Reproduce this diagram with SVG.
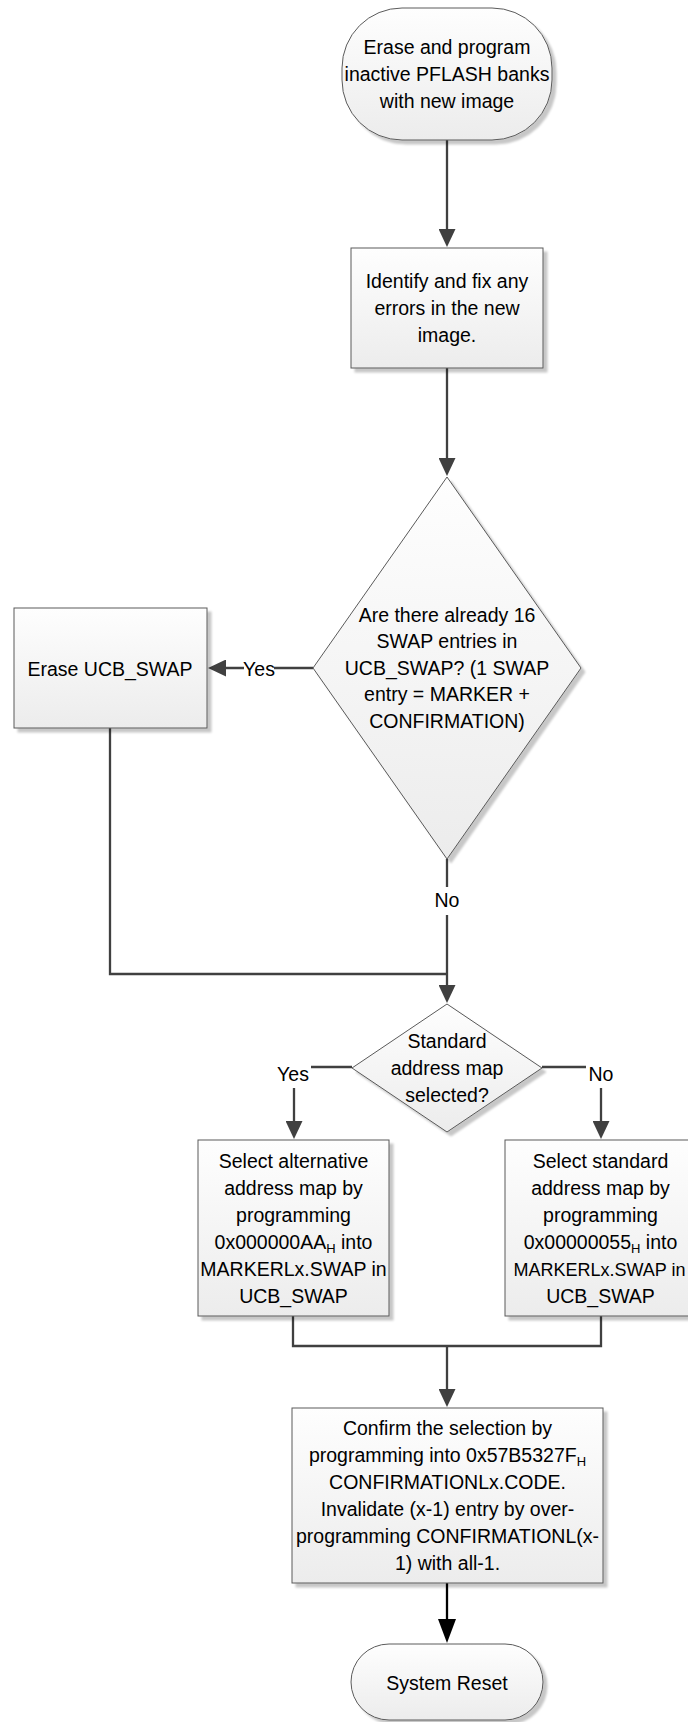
<svg xmlns="http://www.w3.org/2000/svg" width="688" height="1722" viewBox="0 0 688 1722">
  <defs>
    <linearGradient id="fillGrad" x1="0" y1="0" x2="0" y2="1">
      <stop offset="0" stop-color="#fefefe"/>
      <stop offset="1" stop-color="#ececec"/>
    </linearGradient>
    <filter id="shadow" x="-10%" y="-10%" width="130%" height="130%">
      <feDropShadow dx="4" dy="4" stdDeviation="1.3" flood-color="#000000" flood-opacity="0.22"/>
    </filter>
    <marker id="arrow" markerUnits="userSpaceOnUse" viewBox="0 0 18 17" markerWidth="18" markerHeight="17" refX="8" refY="8.5" orient="auto">
      <path d="M0,0 L18,8.5 L0,17 Z" fill="#404040"/>
    </marker>
    <marker id="arrowBlack" markerUnits="userSpaceOnUse" viewBox="0 0 24 18" markerWidth="24" markerHeight="18" refX="12" refY="9" orient="auto">
      <path d="M0,0 L24,9 L0,18 Z" fill="#000000"/>
    </marker>
  </defs>
  <style>
    .shape { fill: url(#fillGrad); stroke: #5a5a5a; stroke-width: 1; filter: url(#shadow); }
    .conn { fill: none; stroke: #404040; stroke-width: 2.3; }
    .connBlack { fill: none; stroke: #000000; stroke-width: 2.3; }
    text { font-family: "Liberation Sans", Arial, sans-serif; font-size: 19.5px; fill: #000000; text-anchor: middle; }
    .sub { font-size: 13px; }
    .tight { font-size: 18px; }
    .lblbg { fill: #ffffff; }
  </style>

  <rect width="688" height="1722" fill="#ffffff"/>

  <!-- connectors -->
  <g id="connectors">
    <path class="conn" d="M447,140 V237" marker-end="url(#arrow)"/>
    <path class="conn" d="M447,368 V466" marker-end="url(#arrow)"/>
    <path class="conn" d="M313,668 H218" marker-end="url(#arrow)"/>
    <path class="conn" d="M110,728 V974 H447"/>
    <path class="conn" d="M447,859 V993" marker-end="url(#arrow)"/>
    <path class="conn" d="M352,1067 H294 V1129" marker-end="url(#arrow)"/>
    <path class="conn" d="M542,1067 H601 V1129" marker-end="url(#arrow)"/>
    <path class="conn" d="M293,1316 V1346 H601 V1316"/>
    <path class="conn" d="M447,1346 V1397" marker-end="url(#arrow)"/>
    <path class="connBlack" d="M447,1583 V1631" marker-end="url(#arrowBlack)"/>

    <!-- connector labels -->
    <rect class="lblbg" x="244" y="656" width="30" height="24"/>
    <text x="259" y="676">Yes</text>
    <rect class="lblbg" x="434" y="887" width="26" height="28"/>
    <text x="447" y="907">No</text>
    <rect class="lblbg" x="275" y="1060" width="36" height="28"/>
    <text x="293" y="1081">Yes</text>
    <rect class="lblbg" x="586" y="1060" width="30" height="28"/>
    <text x="601" y="1081">No</text>
  </g>

  <!-- start: erase and program -->
  <g id="start">
    <rect class="shape" x="342" y="8" width="210" height="132" rx="60" ry="60"/>
    <text x="447" y="54">Erase and program</text>
    <text x="447" y="81">inactive PFLASH banks</text>
    <text x="447" y="108">with new image</text>
  </g>

  <!-- fix errors -->
  <g id="fix-errors">
    <rect class="shape" x="351" y="248" width="192" height="120"/>
    <text x="447" y="288">Identify and fix any</text>
    <text x="447" y="315">errors in the new</text>
    <text x="447" y="342">image.</text>
  </g>

  <!-- decision: 16 swap entries -->
  <g id="check-entries">
    <polygon class="shape" points="447,477 581,668 447,859 313,668"/>
    <text x="447" y="621.5">Are there already 16</text>
    <text x="447" y="648">SWAP entries in</text>
    <text x="447" y="674.5">UCB_SWAP? (1 SWAP</text>
    <text x="447" y="701">entry = MARKER +</text>
    <text x="447" y="727.5">CONFIRMATION)</text>
  </g>

  <!-- erase UCB_SWAP -->
  <g id="erase-ucb">
    <rect class="shape" x="14" y="608" width="193" height="120"/>
    <text x="110" y="675.5">Erase UCB_SWAP</text>
  </g>

  <!-- decision: standard map -->
  <g id="check-map">
    <polygon class="shape" points="447,1004 542,1068 447,1132 352,1068"/>
    <text x="447" y="1047.5">Standard</text>
    <text x="447" y="1074.5">address map</text>
    <text x="447" y="1101.5">selected?</text>
  </g>

  <!-- select alternative map -->
  <g id="select-alternative">
    <rect class="shape" x="198" y="1140" width="191" height="176"/>
    <text x="293.5" y="1167.5">Select alternative</text>
    <text x="293.5" y="1194.5">address map by</text>
    <text x="293.5" y="1221.5">programming</text>
    <text x="293.5" y="1248.5">0x000000AA<tspan class="sub" dy="4">H</tspan><tspan dy="-4"> into</tspan></text>
    <text x="293.5" y="1275.5">MARKERLx.SWAP in</text>
    <text x="293.5" y="1302.5">UCB_SWAP</text>
  </g>

  <!-- select standard map (box runs past the right edge) -->
  <g id="select-standard">
    <rect class="shape" x="505" y="1140" width="191" height="176"/>
    <text x="600.5" y="1167.5">Select standard</text>
    <text x="600.5" y="1194.5">address map by</text>
    <text x="600.5" y="1221.5">programming</text>
    <text x="600.5" y="1248.5">0x00000055<tspan class="sub" dy="4">H</tspan><tspan dy="-4"> into</tspan></text>
    <text class="tight" x="599.5" y="1275.5">MARKERLx.SWAP in</text>
    <text x="600.5" y="1302.5">UCB_SWAP</text>
  </g>

  <!-- confirm selection -->
  <g id="confirm">
    <rect class="shape" x="292" y="1408" width="311" height="175"/>
    <text x="447.5" y="1434.5">Confirm the selection by</text>
    <text x="447.5" y="1461.5">programming into 0x57B5327F<tspan class="sub" dy="4">H</tspan></text>
    <text x="447.5" y="1488.5">CONFIRMATIONLx.CODE.</text>
    <text x="447.5" y="1515.5">Invalidate (x-1) entry by over-</text>
    <text x="447.5" y="1542.5">programming CONFIRMATIONL(x-</text>
    <text x="447.5" y="1569.5">1) with all-1.</text>
  </g>

  <!-- end: system reset -->
  <g id="system-reset">
    <rect class="shape" x="351" y="1644" width="192" height="76" rx="38" ry="38"/>
    <text x="447" y="1689.5">System Reset</text>
  </g>
</svg>
